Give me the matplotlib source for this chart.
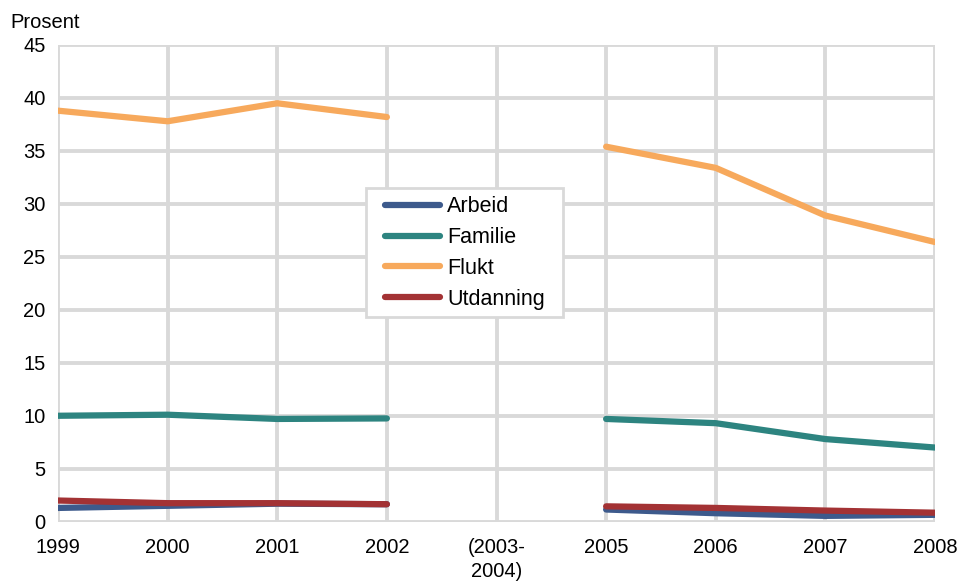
import numpy as np
import matplotlib.pyplot as plt
from matplotlib.patches import Rectangle

plt.rcParams['font.family'] = ['Liberation Sans', 'DejaVu Sans']

years = ["1999", "2000", "2001", "2002", "(2003-\n2004)", "2005", "2006", "2007", "2008"]
nan = np.nan
arbeid = [1.3, 1.5, 1.7, 1.65, nan, 1.15, 0.8, 0.55, 0.65]
familie = [10.0, 10.1, 9.7, 9.75, nan, 9.7, 9.3, 7.8, 7.0]
flukt = [38.8, 37.8, 39.5, 38.2, nan, 35.4, 33.4, 28.9, 26.4]
utdanning = [2.0, 1.75, 1.75, 1.65, nan, 1.45, 1.3, 1.05, 0.85]

series = [("Arbeid", arbeid, "#3d5a8c"),
          ("Familie", familie, "#2d8480"),
          ("Flukt", flukt, "#f7a95c"),
          ("Utdanning", utdanning, "#a33234")]

W, H = 960, 583
fig = plt.figure(figsize=(9.6, 5.83), dpi=100)
ax = fig.add_axes([58/W, 1-521.7/H, (935-58)/W, (521.7-45)/H])

x = np.arange(len(years))
for name, vals, col in series:
    ax.plot(x, vals, color=col, lw=4.5, label=name, solid_capstyle='round')

fs = 14.5
ax.set_xlim(0, len(years)-1)
ax.set_ylim(0, 45)
ax.set_yticks(range(0, 46, 5))
ax.set_xticks(x)
ax.set_xticklabels(years, fontsize=fs, linespacing=1.3)
ax.tick_params(axis='y', labelsize=fs, length=0, pad=9)
ax.tick_params(axis='x', length=0, pad=12)
ax.grid(True, color='#d9d9d9', lw=2.8)
ax.set_axisbelow(True)
for s in ax.spines.values():
    s.set_visible(False)

fig.text(10/W, 1-23/H, "Prosent", fontsize=fs, va='center', ha='left')

# legend box drawn separately so the padding matches
box = Rectangle((366/W, 1-317/H), (563-366)/W, (317-188)/H, transform=fig.transFigure,
                facecolor='white', edgecolor='#d9d9d9', lw=2, zorder=5)
fig.patches.append(box)
leg = fig.legend(loc='upper left', bbox_to_anchor=(385/W, 1-196.5/H),
                 fontsize=15.5, frameon=False, handlelength=2.55,
                 handletextpad=0.33, borderpad=0, labelspacing=0.45,
                 borderaxespad=0)
leg.set_zorder(6)

fig.savefig("out.png", dpi=100)
